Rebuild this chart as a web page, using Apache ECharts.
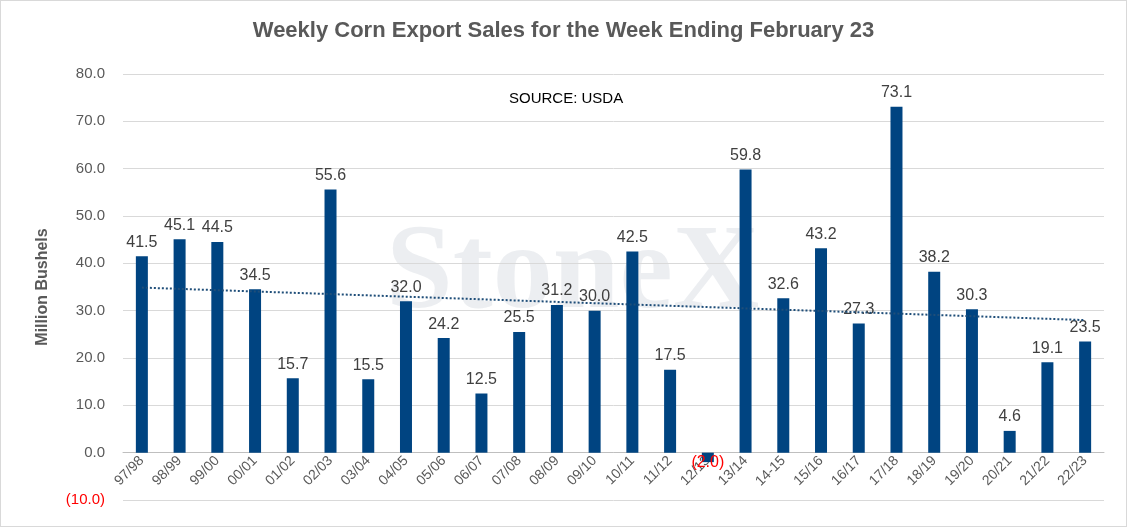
<!DOCTYPE html>
<html><head><meta charset="utf-8">
<script src="https://cdn.jsdelivr.net/npm/echarts@6/dist/echarts.min.js"></script>
<style>html,body{margin:0;padding:0;background:#fff}#c{width:1127px;height:527px;box-sizing:border-box;border:1px solid #d9d9d9}</style>
</head><body><div id="c"></div>
<script>
const categories=["97/98","98/99","99/00","00/01","01/02","02/03","03/04","04/05","05/06","06/07","07/08","08/09","09/10","10/11","11/12","12/13","13/14","14-15","15/16","16/17","17/18","18/19","19/20","20/21","21/22","22/23"];
const sales=[41.5,45.1,44.5,34.5,15.7,55.6,15.5,32.0,24.2,12.5,25.5,31.2,30.0,42.5,17.5,-2.0,59.8,32.6,43.2,27.3,73.1,38.2,30.3,4.6,19.1,23.5];
const n=sales.length;
let sx=0,sy=0,sxy=0,sxx=0;
sales.forEach((v,i)=>{sx+=i;sy+=v;sxy+=i*v;sxx+=i*i;});
const b=(n*sxy-sx*sy)/(n*sxx-sx*sx),a=(sy-b*sx)/n;
const trend=sales.map((v,i)=>+(a+b*i).toFixed(3));
const fmt=v=>v<0?'('+Math.abs(v).toFixed(1)+')':v.toFixed(1);
const ch=echarts.init(document.getElementById('c'));
ch.setOption({
 animation:false,
 title:{text:'Weekly Corn Export Sales for the Week Ending February 23',left:'center',top:14,textStyle:{fontFamily:'Liberation Sans',fontSize:22,fontWeight:'bold',color:'#595959'}},
 graphic:[
  {type:'text',left:508,top:90,style:{text:'SOURCE: USDA',font:'15px "Liberation Sans"',fill:'#000'}},
  {type:'text',left:385,top:215,style:{text:'StoneX',font:'bold 120px "Liberation Serif"',fill:'rgba(200,205,215,0.35)'}}
 ],
 grid:{left:122,right:22,top:73,bottom:26,containLabel:false,outerBoundsMode:'none'},
 xAxis:{type:'category',data:categories,offset:-47.6,axisLine:{onZero:false,lineStyle:{color:'#bfbfbf'}},axisTick:{show:false},
  axisLabel:{rotate:45,color:'#595959',fontFamily:'Liberation Sans',fontSize:14,interval:0,margin:6}},
 yAxis:{type:'value',min:-10,max:80,interval:10,name:'Million Bushels',nameLocation:'middle',nameGap:72,
  nameTextStyle:{fontFamily:'Liberation Sans',fontSize:16,fontWeight:'bold',color:'#595959'},
  axisLabel:{formatter:fmt,color:v=>v<0?'#ff0000':'#595959',fontFamily:'Liberation Sans',fontSize:15,margin:18},
  splitLine:{lineStyle:{color:'#d9d9d9'}},axisLine:{show:false},axisTick:{show:false}},
 series:[
  {type:'bar',data:sales.map(v=>v<0?{value:v,label:{color:'#ff0000',position:'insideBottom',distance:-8}}:v),barWidth:12,itemStyle:{color:'#004481'},
   label:{show:true,position:'top',distance:6,fontFamily:'Liberation Sans',fontSize:16,
    formatter:p=>fmt(p.value),color:'#404040'}},
  {type:'line',data:trend,symbol:'none',lineStyle:{type:'dotted',width:2,color:'#1f4e79'},z:5}
 ]
});
</script></body></html>
